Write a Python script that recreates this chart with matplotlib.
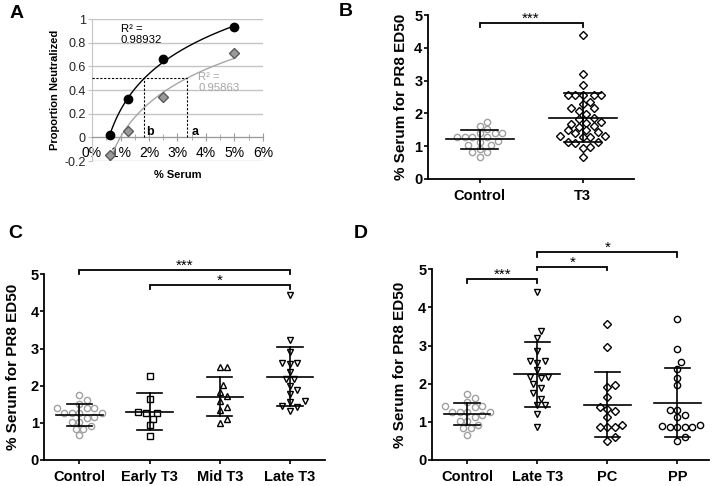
import numpy as np
import matplotlib
matplotlib.use('Agg')
import matplotlib.pyplot as plt

plt.rcParams['font.family'] = ['Liberation Sans', 'DejaVu Sans']

# ---- panel A: neutralisation curves
serum_pct = [0.625, 1.25, 2.5, 5.0]
neut_black = [0.02, 0.32, 0.66, 0.93]
neut_grey = [-0.15, 0.05, 0.34, 0.71]
r2_black = '0.98932'
r2_grey = '0.95863'
a_yticks = [-0.2, 0, 0.2, 0.4, 0.6, 0.8, 1]
a_xticks = [0, 1, 2, 3, 4, 5, 6]

# ---- panels B-D: % serum for PR8 ED50
control = [1.74, 1.62, 1.52, 1.41, 1.39, 1.41, 1.27, 1.27, 1.27, 1.27,
           1.14, 1.17, 1.03, 1.03, 0.83, 0.91, 0.83, 0.66]
t3 = [4.40, 3.21, 2.86, 2.55, 2.55, 2.55, 2.55, 2.55, 2.36, 2.29, 2.18, 2.16,
      2.06, 1.98, 1.84, 1.86, 1.75, 1.72, 1.62, 1.59, 1.68, 1.49, 1.49, 1.39,
      1.31, 1.29, 1.29, 1.31, 1.43, 1.13, 1.13, 1.11, 0.98, 0.95, 0.67]
early_t3 = [2.27, 1.65, 1.30, 1.26, 1.27, 1.10, 0.93, 0.65]
mid_t3 = [2.50, 2.50, 2.02, 1.71, 1.83, 1.59, 1.43, 1.35, 0.99, 1.10]
late_t3_c = [4.43, 3.22, 2.90, 2.62, 2.58, 2.61, 2.38, 2.18, 2.18, 1.99, 1.89,
             1.78, 1.60, 1.57, 1.45, 1.44, 1.32]
late_t3_d = [4.40, 3.39, 3.21, 2.87, 2.60, 2.55, 2.60, 2.36, 2.17, 2.14, 2.17,
             1.88, 1.99, 1.75, 1.60, 1.44, 1.44, 1.20, 0.87]
pc = [3.56, 2.97, 1.96, 1.92, 1.64, 1.33, 1.38, 1.29, 1.14, 0.92, 0.86, 0.86,
      0.87, 0.51, 0.61]
pp = [3.69, 2.91, 2.57, 2.39, 2.16, 1.96, 1.31, 1.12, 1.17, 1.31, 0.92, 0.87,
      0.86, 0.86, 0.87, 0.89, 0.51, 0.61]

names_b = ['Control', 'T3']
names_c = ['Control', 'Early T3', 'Mid T3', 'Late T3']
names_d = ['Control', 'Late T3', 'PC', 'PP']
ylab = '% Serum for PR8 ED50'

fig = plt.figure(figsize=(7.16, 4.86), dpi=100)


def swarm(ax, xc, vals, d=7.5):
    # simple beeswarm in pixel space
    vals = np.asarray(vals, float)
    ypx = ax.transData.transform(np.column_stack([np.full(len(vals), xc), vals]))[:, 1]
    x0 = ax.transData.transform((xc, 0))[0]
    offs = np.zeros(len(vals))
    placed = []
    cands = [0]
    for k in range(1, 20):
        cands += [k * d / 2, -k * d / 2]
    for i in np.argsort(vals):
        for c in cands:
            if all((px - c) ** 2 + (py - ypx[i]) ** 2 >= d * d * 0.9 for px, py in placed):
                break
        placed.append((c, ypx[i]))
        offs[i] = c
    pts = ax.transData.inverted().transform(np.column_stack([x0 + offs, ypx]))
    return pts[:, 0]


def dotplot(ax, groups, markers, names, xmax):
    ax.set_xlim(-0.5, xmax)
    ax.set_ylim(0, 5)
    for i, (vals, (mk, ms, col)) in enumerate(zip(groups, markers)):
        xs = swarm(ax, i, vals)
        ax.plot(xs, vals, ls='none', marker=mk, ms=ms, mfc='white', mec=col,
                mew=1.0, zorder=2, clip_on=False)
        m = np.mean(vals)
        s = np.std(vals, ddof=1)
        ax.plot([i - 0.33, i + 0.33], [m, m], color='k', lw=1.2, zorder=3)
        ax.plot([i, i], [m - s, m + s], color='k', lw=1.2, zorder=3)
        ax.plot([i - 0.18, i + 0.18], [m + s, m + s], color='k', lw=1.2, zorder=3)
        ax.plot([i - 0.18, i + 0.18], [m - s, m - s], color='k', lw=1.2, zorder=3)
    ax.set_xticks(range(len(groups)))
    ax.set_xticklabels(names, fontweight='bold', fontsize=10.5)
    ax.set_yticks([0, 1, 2, 3, 4, 5])
    ax.set_yticklabels(['0', '1', '2', '3', '4', '5'], fontweight='bold', fontsize=10.5)
    ax.tick_params(length=3, width=1.2, pad=1)
    ax.tick_params(axis='x', pad=4)
    for sp in ['top', 'right']:
        ax.spines[sp].set_visible(False)
    for sp in ['left', 'bottom']:
        ax.spines[sp].set_linewidth(1.3)
    ax.set_ylabel(ylab, fontweight='bold', fontsize=11)


def bracket(ax, i, j, y, drop, label):
    ax.plot([i, i, j, j], [y - drop, y, y, y - drop], color='k', lw=1.3,
            clip_on=False, solid_joinstyle='miter')
    ax.text((i + j) / 2, y, label, ha='center', va='baseline', fontsize=11,
            clip_on=False)


# ---- A
axA = fig.add_axes([0.1285, 0.6687, 0.2388, 0.2922])
axA.set_xlim(0, 6)
axA.set_ylim(-0.2, 1)
axA.set_yticks(a_yticks)
axA.set_yticklabels(['%g' % v for v in a_yticks], fontsize=9, color='#222222')
axA.set_xticks(a_xticks)
axA.set_xticklabels(['%d%%' % v for v in a_xticks], fontsize=8, color='#333333')
axA.set_xticks(np.arange(0.5, 6, 1), minor=True)
axA.yaxis.grid(True, color='#c4c4c4', lw=1)
axA.set_axisbelow(True)
for sp in ['top', 'right']:
    axA.spines[sp].set_visible(False)
axA.spines['left'].set_color('#c4c4c4')
axA.spines['bottom'].set_position(('data', 0))
axA.spines['bottom'].set_color('#9a9a9a')
axA.tick_params(axis='y', length=3, color='#c4c4c4', pad=1.5)
axA.tick_params(axis='x', which='both', direction='inout', color='#9a9a9a', pad=3)
axA.tick_params(axis='x', which='major', length=6)
axA.tick_params(axis='x', which='minor', length=4)

xx = np.linspace(min(serum_pct), max(serum_pct), 200)
x50 = []
for vals, col in [(neut_black, 'k'), (neut_grey, '#a6a6a6')]:
    a, b = np.polyfit(np.log(serum_pct), vals, 1)
    axA.plot(xx, a * np.log(xx) + b, color=col, lw=1, zorder=3)
    x50.append(np.exp((0.5 - b) / a))
axA.plot(serum_pct, neut_black, 'o', color='k', ms=6, zorder=4, clip_on=False)
axA.plot(serum_pct, neut_grey, 'D', mfc='#9a9a9a', mec='#5a5a5a', ms=5.5,
         zorder=4, clip_on=False)
axA.plot([0, x50[1]], [0.5, 0.5], color='k', lw=0.8, dashes=(2, 1.5), zorder=3)
for xv in x50:
    axA.plot([xv, xv], [0, 0.5], color='k', lw=0.8, dashes=(2, 1.5), zorder=3)
axA.text(x50[0] + 0.06, 0.02, 'b', fontsize=9, fontweight='bold')
axA.text(x50[1] + 0.17, 0.02, 'a', fontsize=9, fontweight='bold')
axA.text(1.0, 0.96, 'R² =\n' + r2_black, fontsize=8.2, va='top', color='k')
axA.text(3.73, 0.555, 'R² =\n' + r2_grey, fontsize=8.2, va='top', color='#a6a6a6')
axA.set_xlabel('% Serum', fontweight='bold', fontsize=8)
axA.xaxis.set_label_coords(0.5, -0.06)
axA.set_ylabel('Proportion Neutralized', fontweight='bold', fontsize=8)
axA.yaxis.set_label_coords(-0.185, 0.5)

# ---- B
axB = fig.add_axes([0.5978, 0.6317, 0.2877, 0.3374])
dotplot(axB, [control, t3], [('o', 4.5, '#a0a0a0'), ('D', 3.6, 'k')], names_b, 1.5)
axB.yaxis.set_label_coords(-0.097, 0.5)
bracket(axB, 0, 1, 4.75, 0.13, '***')

# ---- C
axC = fig.add_axes([0.0619, 0.0535, 0.392, 0.3821])
dotplot(axC, [control, early_t3, mid_t3, late_t3_c],
        [('o', 4.5, '#a0a0a0'), ('s', 4, 'k'), ('^', 4.5, 'k'), ('v', 4.5, 'k')],
        names_c, 3.5)
axC.yaxis.set_label_coords(-0.085, 0.5)
bracket(axC, 0, 3, 5.12, 0.11, '***')
bracket(axC, 1, 3, 4.71, 0.11, '*')

# ---- D
axD = fig.add_axes([0.6034, 0.0535, 0.3869, 0.3924])
dotplot(axD, [control, late_t3_d, pc, pp],
        [('o', 4.5, '#a0a0a0'), ('v', 4.5, 'k'), ('D', 3.6, 'k'), ('o', 4.5, 'k')],
        names_d, 3.45)
axD.yaxis.set_label_coords(-0.089, 0.5)
bracket(axD, 0, 1, 4.74, 0.11, '***')
bracket(axD, 1, 2, 5.07, 0.10, '*')
bracket(axD, 1, 3, 5.45, 0.12, '*')

for lab, x, y in [('A', 17, 13), ('B', 346, 12), ('C', 15, 233), ('D', 361, 233)]:
    fig.text(x / 716, 1 - y / 486, lab, fontsize=14, fontweight='bold',
             ha='center', va='center')

fig.savefig('out.png', dpi=100)
